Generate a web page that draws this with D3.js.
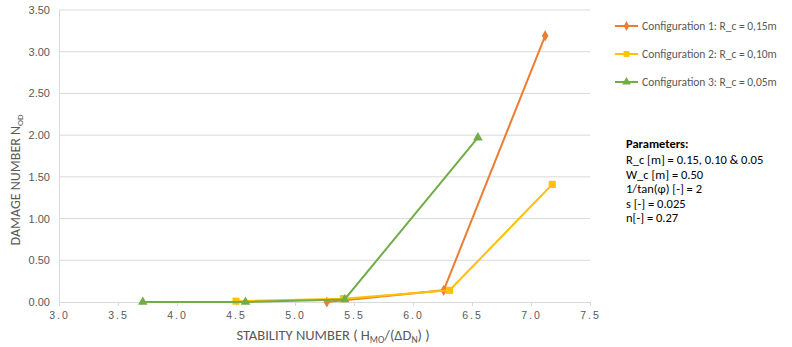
<!DOCTYPE html>
<html>
<head>
<meta charset="utf-8">
<script src="https://cdn.jsdelivr.net/npm/d3@7"></script>
<style>
  body { margin: 0; background: #fff; }
  svg { font-family: Carlito, "Liberation Sans Narrow", "Noto Sans", sans-serif; }
  .tick text { fill: #595959; }
</style>
</head>
<body>
<svg id="chart" width="792" height="347"></svg>
<script>
// series data
const config1 = [[5.27, 0.0], [6.26, 0.14], [7.12, 3.19]];
const config2 = [[4.50, 0.01], [5.41, 0.04], [6.31, 0.14], [7.18, 1.41]];
const config3 = [[3.71, 0.0], [4.58, 0.0], [5.42, 0.03], [6.55, 1.97]];

const seriesNames = [
    "Configuration 1: R_c = 0,15m",
    "Configuration 2: R_c = 0,10m",
    "Configuration 3: R_c = 0,05m"
];
const seriesColors = ["#ED7D31", "#FFC000", "#70AD47"];
const seriesSymbols = [d3.symbolDiamond, d3.symbolSquare, d3.symbolTriangle];

const xTicks = [3.0, 3.5, 4.0, 4.5, 5.0, 5.5, 6.0, 6.5, 7.0, 7.5];
const yTicks = [0, 0.5, 1, 1.5, 2, 2.5, 3, 3.5];

const paramLines = [
    "R_c [m] = 0.15, 0.10 & 0.05",
    "W_c [m] = 0.50",
    "1/tan(\u03C6) [-] = 2",
    "s [-] = 0.025",
    "n[-] = 0.27"
];

const svg = d3.select("#chart");
const margin = {left: 59, top: 10, right: 202, bottom: 45};
const width = 792 - margin.left - margin.right;
const height = 347 - margin.top - margin.bottom;

const x = d3.scaleLinear().domain([3.0, 7.5]).range([margin.left, margin.left + width]);
const y = d3.scaleLinear().domain([0, 3.5]).range([margin.top + height, margin.top]);

// horizontal gridlines
svg.append("g")
    .selectAll("line")
    .data(yTicks.slice(1))
    .enter()
    .append("line")
    .attr("x1", margin.left)
    .attr("x2", margin.left + width)
    .attr("y1", d => y(d))
    .attr("y2", d => y(d))
    .style("stroke", "#d9d9d9")
    .style("stroke-width", 1);

// y axis
const yAxis = svg.append("g")
    .attr("transform", `translate(${margin.left},0)`)
    .call(d3.axisLeft(y).tickValues(yTicks).tickFormat(d3.format(".2f")).tickSize(0).tickPadding(9));
yAxis.select(".domain").style("stroke", "#d9d9d9");
yAxis.selectAll("text").style("font-size", "11px");

// x axis
const xAxis = svg.append("g")
    .attr("transform", `translate(0,${margin.top + height})`)
    .call(d3.axisBottom(x).tickValues(xTicks).tickFormat(d3.format(".1f")).tickSize(4).tickPadding(6));
xAxis.select(".domain").style("stroke", "#d9d9d9");
xAxis.selectAll("line").style("stroke", "#d9d9d9");
xAxis.selectAll("text").style("font-size", "10.5px").style("letter-spacing", "2px");

// axis titles
svg.append("text")
    .attr("transform", "translate(20,180) rotate(-90)")
    .attr("text-anchor", "middle")
    .style("font-size", "14px")
    .style("fill", "#595959")
    .html('DAMAGE NUMBER N<tspan dy="3" font-size="9px">OD</tspan>');

svg.append("text")
    .attr("x", 333)
    .attr("y", 340)
    .attr("text-anchor", "middle")
    .style("font-size", "14.5px")
    .style("fill", "#595959")
    .html('STABILITY NUMBER ( H<tspan dy="3" font-size="9.5px">MO</tspan><tspan dy="-3">/(\u0394D</tspan><tspan dy="3" font-size="9.5px">N</tspan><tspan dy="-3">) )</tspan>');

// lines and markers
const allSeries = [config1, config2, config3];
const line = d3.line().x(d => x(d[0])).y(d => y(d[1]));

allSeries.forEach((data, i) => {
    svg.append("path")
        .datum(data)
        .attr("d", line)
        .attr("fill", "none")
        .style("stroke", seriesColors[i])
        .style("stroke-width", 2);

    svg.append("g")
        .selectAll("path")
        .data(data)
        .enter()
        .append("path")
        .attr("transform", d => `translate(${x(d[0])},${y(d[1])})`)
        .attr("d", d3.symbol().type(seriesSymbols[i]).size(i === 0 ? 36 : i === 1 ? 50 : 40))
        .attr("fill", seriesColors[i]);
});

// legend
const legend = svg.append("g");
seriesNames.forEach((name, i) => {
    const ly = 26 + i * 28;
    legend.append("line")
        .attr("x1", 615).attr("x2", 638)
        .attr("y1", ly).attr("y2", ly)
        .style("stroke", seriesColors[i])
        .style("stroke-width", 2);
    legend.append("path")
        .attr("transform", `translate(626.5,${ly})`)
        .attr("d", d3.symbol().type(seriesSymbols[i]).size(i === 0 ? 28 : 34))
        .attr("fill", seriesColors[i]);
    legend.append("text")
        .attr("x", 642).attr("y", ly + 4)
        .style("font-size", "11.5px")
        .style("fill", "#595959")
        .text(name);
});

// parameters note
const note = svg.append("g");
note.append("text")
    .attr("x", 626).attr("y", 148)
    .style("font-size", "12.5px")
    .style("font-weight", "bold")
    .style("fill", "#000")
    .text("Parameters:");
paramLines.forEach((t, i) => {
    note.append("text")
        .attr("x", 626).attr("y", 164 + i * 14.5)
        .style("font-size", "12.5px")
        .style("fill", "#000")
        .text(t);
});
</script>
</body>
</html>
